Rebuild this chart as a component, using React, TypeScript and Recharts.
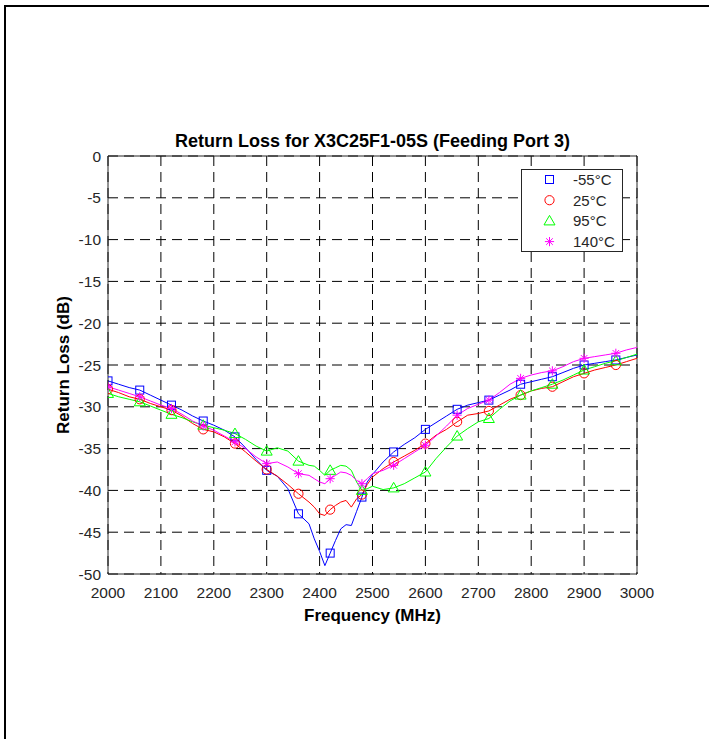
import React from 'react';
import { LineChart, Line, XAxis, YAxis, CartesianGrid, Legend, ReferenceLine, Label } from 'recharts';

const freqMHz = [2000, 2020, 2040, 2060, 2080, 2100, 2120, 2140, 2160, 2180, 2200, 2220, 2240, 2260, 2280, 2300, 2320, 2340, 2360, 2380, 2390, 2400, 2410, 2420, 2430, 2440, 2450, 2460, 2470, 2480, 2490, 2500, 2520, 2540, 2560, 2580, 2600, 2620, 2640, 2660, 2680, 2700, 2720, 2740, 2760, 2780, 2800, 2820, 2840, 2860, 2880, 2900, 2920, 2940, 2960, 2980, 3000];

const lossMinus55 = [-26.9, -27.3, -27.7, -28.0, -28.6, -29.2, -29.8, -30.4, -31.1, -31.7, -32.2, -32.8, -33.6, -34.9, -36.3, -37.6, -38.3, -39.8, -42.8, -44.0, -45.8, -47.3, -49.0, -47.5, -46.0, -44.6, -44.1, -44.2, -42.5, -40.8, -39.0, -38.1, -36.6, -35.4, -34.5, -33.7, -32.7, -31.9, -31.1, -30.3, -29.8, -29.5, -29.2, -28.6, -28.0, -27.3, -27.0, -26.7, -26.4, -25.9, -25.4, -25.0, -24.8, -24.6, -24.4, -24.1, -23.8];

const loss25 = [-27.9, -28.3, -28.8, -29.1, -29.6, -30.0, -30.4, -31.1, -32.0, -32.7, -33.0, -33.6, -34.4, -35.4, -36.5, -37.5, -38.3, -39.3, -40.4, -41.4, -42.0, -42.8, -43.0, -42.3, -41.8, -41.4, -41.2, -42.0, -41.0, -40.5, -39.3, -38.4, -37.4, -36.6, -35.9, -35.2, -34.4, -33.4, -32.7, -31.8, -31.0, -30.8, -30.5, -29.8, -29.1, -28.6, -28.1, -27.8, -27.6, -27.0, -26.4, -26.0, -25.6, -25.3, -25.0, -24.6, -24.2];

const loss95 = [-28.4, -28.8, -29.1, -29.4, -29.9, -30.4, -30.9, -31.3, -31.8, -32.2, -32.5, -32.8, -33.2, -33.9, -34.7, -35.3, -34.9, -35.3, -36.5, -37.0, -37.1, -37.6, -38.2, -37.6, -37.3, -37.0, -37.1, -37.6, -39.0, -40.0, -39.8, -39.5, -39.9, -39.7, -39.2, -38.5, -37.8, -36.2, -34.8, -33.5, -32.6, -31.8, -31.4, -30.3, -29.3, -28.6, -28.1, -27.7, -27.3, -26.8, -26.2, -25.6, -25.2, -24.8, -24.5, -24.1, -23.7];

const loss140 = [-27.6, -28.0, -28.4, -28.8, -29.3, -29.8, -30.2, -30.9, -31.7, -32.3, -32.8, -33.5, -34.2, -35.0, -36.0, -36.8, -36.6, -37.2, -38.0, -38.2, -38.6, -39.0, -39.2, -38.6, -38.2, -37.8, -37.9, -38.2, -38.8, -39.2, -38.6, -38.0, -37.6, -37.0, -36.2, -35.4, -34.6, -33.5, -32.3, -31.0, -30.2, -29.7, -29.2, -28.3, -27.3, -26.6, -26.2, -25.9, -25.7, -25.2, -24.6, -24.2, -24.0, -23.8, -23.6, -23.2, -22.9];

const xTicks = [2000, 2100, 2200, 2300, 2400, 2500, 2600, 2700, 2800, 2900, 3000];
const yTicks = [0, -5, -10, -15, -20, -25, -30, -35, -40, -45, -50];
const seriesNames = ['-55°C', '25°C', '95°C', '140°C'];
const seriesKeys = ['m55', 't25', 't95', 't140'];
const seriesColors = ['#0000ff', '#ff0000', '#00ff00', '#ff00ff'];
const seriesShapes = ['square', 'circle', 'triangle', 'star'];
const markerStartMHz = 2000;
const markerStepMHz = 60;

const data = freqMHz.map((f, i) => ({
  f,
  m55: lossMinus55[i],
  t25: loss25[i],
  t95: loss95[i],
  t140: loss140[i],
}));

const FONT = '"Liberation Sans", Arial, Helvetica, sans-serif';

function Marker({ shape, cx, cy, color }: { shape: string; cx: number; cy: number; color: string }) {
  if (shape === 'square') {
    return <rect x={cx - 4} y={cy - 4} width={8} height={8} fill="none" stroke={color} strokeWidth={1} />;
  }
  if (shape === 'circle') {
    return <circle cx={cx} cy={cy} r={4.6} fill="none" stroke={color} strokeWidth={1} />;
  }
  if (shape === 'triangle') {
    return (
      <path
        d={`M${cx},${cy - 5.5} L${cx + 5.5},${cy + 4} L${cx - 5.5},${cy + 4} Z`}
        fill="none"
        stroke={color}
        strokeWidth={1}
      />
    );
  }
  const r = 4.6;
  const d = 3.3;
  return (
    <path
      d={`M${cx - r},${cy} H${cx + r} M${cx},${cy - r} V${cy + r} M${cx - d},${cy - d} L${cx + d},${cy + d} M${cx - d},${cy + d} L${cx + d},${cy - d}`}
      fill="none"
      stroke={color}
      strokeWidth={1}
    />
  );
}

function makeDot(shape: string, color: string, key: string) {
  return (props: any) => {
    const { cx, cy, payload, index } = props;
    const k = `${key}-${index}`;
    if (payload == null || cx == null || cy == null) return <g key={k} />;
    if ((payload.f - markerStartMHz) % markerStepMHz !== 0) return <g key={k} />;
    return (
      <g key={k}>
        <Marker shape={shape} cx={cx} cy={cy} color={color} />
      </g>
    );
  };
}

function LegendBox() {
  const w = 102;
  const h = 83;
  const rowH = 20.7;
  return (
    <svg width={w} height={h} style={{ display: 'block' }}>
      <rect x={0.5} y={0.5} width={w - 1} height={h - 1} fill="#fff" stroke="#262626" strokeWidth={1} />
      {seriesNames.map((name, i) => {
        const cy = 10.5 + i * rowH;
        return (
          <g key={name}>
            <Marker shape={seriesShapes[i]} cx={28.5} cy={cy} color={seriesColors[i]} />
            <text x={52} y={cy} dy="0.36em" fontSize={15} fontFamily={FONT} fill="#262626">
              {name}
            </text>
          </g>
        );
      })}
    </svg>
  );
}

export default function App() {
  return (
    <div style={{ position: 'fixed', left: 0, top: 0, width: 709, height: 739, background: '#fff', overflow: 'hidden' }}>
      <div
        style={{
          position: 'absolute',
          left: 4,
          top: 5,
          width: 705,
          height: 734,
          borderTop: '2px solid #000',
          borderLeft: '2px solid #000',
          boxSizing: 'border-box',
        }}
      />
      <div
        style={{
          position: 'absolute',
          left: 108,
          width: 529,
          top: 131,
          textAlign: 'center',
          fontFamily: FONT,
          fontWeight: 'bold',
          fontSize: 18,
          lineHeight: '20px',
          color: '#000',
          whiteSpace: 'nowrap',
        }}
      >
        Return Loss for X3C25F1-05S (Feeding Port 3)
      </div>
      <div style={{ position: 'absolute', left: 0, top: 0 }}>
        <LineChart width={709} height={739} data={data} margin={{ top: 156, right: 72, bottom: 135, left: 48 }}>
          <CartesianGrid stroke="#000" strokeDasharray="10 6" strokeWidth={1} horizontalValues={yTicks} verticalValues={xTicks} />
          <XAxis
            dataKey="f"
            type="number"
            domain={[2000, 3000]}
            ticks={xTicks}
            allowDataOverflow
            height={30}
            tickSize={0}
            tickLine={false}
            tickMargin={13}
            axisLine={{ stroke: '#262626' }}
            tick={{ fill: '#262626', fontSize: 15.5, fontFamily: FONT }}
            interval={0}
          >
            <Label
              content={(p: any) => {
                const vb = p.viewBox || { x: 108, y: 574, width: 529, height: 30 };
                return (
                  <text
                    x={vb.x + vb.width / 2}
                    y={vb.y + vb.height + 17}
                    textAnchor="middle"
                    fontSize={17}
                    fontWeight="bold"
                    fontFamily={FONT}
                    fill="#000"
                  >
                    Frequency (MHz)
                  </text>
                );
              }}
            />
          </XAxis>
          <YAxis
            type="number"
            domain={[-50, 0]}
            ticks={yTicks}
            allowDataOverflow
            width={60}
            tickSize={0}
            tickLine={false}
            tickMargin={7}
            axisLine={{ stroke: '#262626' }}
            tick={{ fill: '#262626', fontSize: 15.5, fontFamily: FONT }}
            interval={0}
          >
            <Label
              content={(p: any) => {
                const vb = p.viewBox || { x: 48, y: 156, width: 60, height: 418 };
                const cx = vb.x + 15;
                const cy = vb.y + vb.height / 2;
                return (
                  <text
                    x={cx}
                    y={cy}
                    transform={`rotate(-90 ${cx} ${cy})`}
                    textAnchor="middle"
                    dominantBaseline="central"
                    fontSize={17}
                    fontWeight="bold"
                    fontFamily={FONT}
                    fill="#000"
                  >
                    Return Loss (dB)
                  </text>
                );
              }}
            />
          </YAxis>
          <ReferenceLine y={0} stroke="#262626" strokeWidth={1} />
          <ReferenceLine x={3000} stroke="#262626" strokeWidth={1} />
          {seriesKeys.map((k, i) => (
            <Line
              key={k}
              dataKey={k}
              name={seriesNames[i]}
              type="linear"
              stroke={seriesColors[i]}
              strokeWidth={1}
              dot={makeDot(seriesShapes[i], seriesColors[i], k)}
              activeDot={false}
              isAnimationActive={false}
            />
          ))}
          <Legend
            layout="vertical"
            align="center"
            verticalAlign="middle"
            content={() => <LegendBox />}
            wrapperStyle={{ position: 'absolute', left: 521, top: 169, width: 102, height: 83, margin: 0, padding: 0 }}
          />
        </LineChart>
      </div>
    </div>
  );
}
